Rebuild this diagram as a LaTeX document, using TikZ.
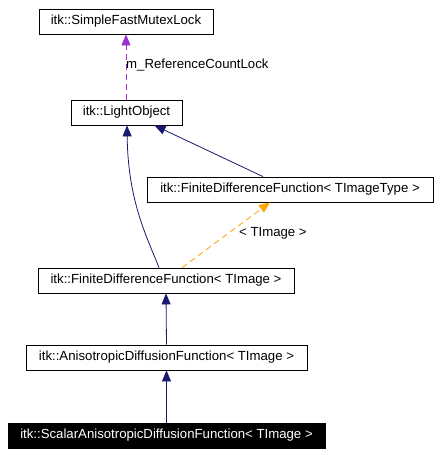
\documentclass[tikz,border=0pt]{standalone}
\usepackage{fontspec}
\setmainfont{Liberation Sans}
\usetikzlibrary{arrows.meta}
\definecolor{navy}{RGB}{25,25,112}
\definecolor{purp}{RGB}{154,50,205}
\definecolor{orng}{RGB}{255,165,0}
\begin{document}
\begin{tikzpicture}[x=1pt,y=-1pt,
  cls/.style={draw=black,line width=0.8pt,minimum height=25pt,inner sep=0pt,font=\fontsize{13.2}{15}\selectfont,text=black},
  inh/.style={navy,line width=0.8pt,-{Triangle[length=11pt,width=9pt]}},
  use/.style={purp,line width=0.8pt,dashed,dash pattern=on 6pt off 4pt,-{Triangle[length=11pt,width=9pt]}},
  tpl/.style={orng,line width=0.8pt,dash pattern=on 6pt off 4pt,-{Triangle[length=11pt,width=9pt]}},
  lbl/.style={font=\fontsize{13.2}{15}\selectfont,inner sep=0pt}]
\useasboundingbox (0,0) rectangle (440,455);
\node[cls,minimum width=174pt] (simple) at (126,21.5) {itk::SimpleFastMutexLock};
\node[cls,minimum width=111pt] (light) at (126.5,112.5) {itk::LightObject};
\node[cls,minimum width=286pt] (fdftt) at (290,189.5) {itk::FiniteDifferenceFunction< TImageType >};
\node[cls,minimum width=256pt] (fdft) at (166,280.5) {itk::FiniteDifferenceFunction< TImage >};
\node[cls,minimum width=281pt] (aniso) at (166.5,357.5) {itk::AnisotropicDiffusionFunction< TImage >};
\node[cls,minimum width=317pt,fill=black,text=white] (scalar) at (166.5,435.5) {itk::ScalarAnisotropicDiffusionFunction< TImage >};
\draw[use] ([xshift=-0.5pt]light.north) -- (simple.south);
\node[lbl,anchor=west] (l1) at (126,65) {m\_ReferenceCountLock};
\draw[inh] ([xshift=-7pt]fdft.north) .. controls (146,235) and (128,200) .. ([xshift=0.5pt]light.south);
\draw[inh] ([xshift=-27pt]fdftt.north) -- ([xshift=28pt]light.south);
\draw[tpl] ([xshift=16pt]fdft.north) -- ([xshift=-20pt]fdftt.south);
\node[lbl,anchor=west] (l2) at (239,233) {< TImage >};
\draw[inh] (aniso.north) -- (fdft.south);
\draw[inh] (scalar.north) -- (aniso.south);
\end{tikzpicture}
\end{document}
